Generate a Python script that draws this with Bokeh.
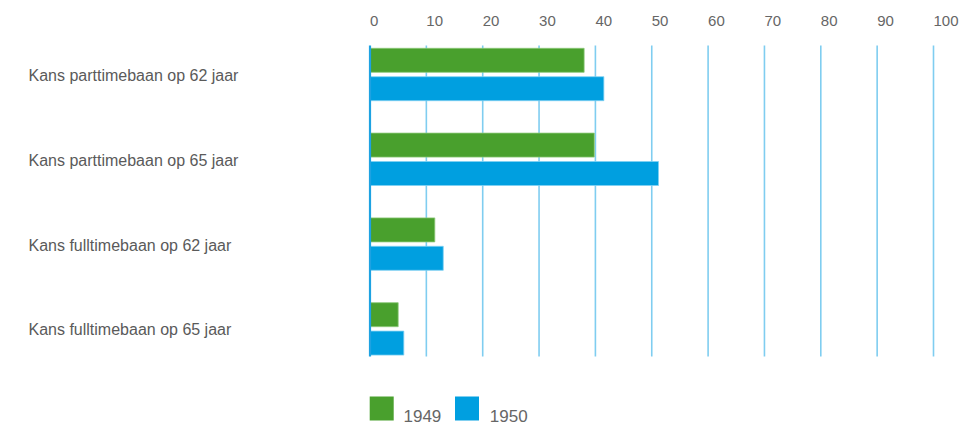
from bokeh.plotting import figure
from bokeh.models import Range1d, ColumnDataSource
from bokeh.core.properties import value
from bokeh.embed import file_html
from bokeh.resources import INLINE

# --- data -------------------------------------------------------------
categories = [
    "Kans parttimebaan op 62 jaar",
    "Kans parttimebaan op 65 jaar",
    "Kans fulltimebaan op 62 jaar",
    "Kans fulltimebaan op 65 jaar",
]
series_names = ["1949", "1950"]
values_1949 = [38.0, 39.8, 11.5, 5.0]
values_1950 = [41.5, 51.2, 13.0, 6.0]
tick_values = [0, 10, 20, 30, 40, 50, 60, 70, 80, 90, 100]
tick_labels = [str(t) for t in tick_values]

GREEN = "#49a02d"
BLUE = "#009fe0"
GRID = "#7fcdf0"
ZERO = "#1ea2e2"
TEXT = "#5a5a5a"
FONT = "Liberation Sans"

W, H = 960, 425
# canvas scale: 0 sits at x=369.5px, one unit = 5.635px;
# row i is centred at y=74px + i*84.8px (rows grow downwards)
X0, XS = 369.5, 5.635
Y0, YS = 74.0, 84.8


def xd(px):
    return (px - X0) / XS


def yd(px):
    return (px - Y0) / YS


p = figure(
    width=W, height=H,
    x_range=Range1d(xd(0), xd(W)),
    y_range=Range1d(yd(H), yd(0)),
    x_axis_location=None, y_axis_location=None,
    toolbar_location=None, output_backend="svg",
    min_border=0, outline_line_color=None,
    background_fill_color="white", border_fill_color="white",
)
p.grid.visible = False

rows = list(range(len(categories)))
bar_h = 24 / YS
off = 14.2 / YS

# vertical grid lines behind the bars
grid_top, grid_bot = yd(45), yd(356)
p.segment(x0=tick_values[1:], x1=tick_values[1:],
          y0=[grid_top] * 10, y1=[grid_bot] * 10,
          line_color=GRID, line_width=1.6)

src = ColumnDataSource(dict(
    y49=[r - off for r in rows], y50=[r + off for r in rows],
    v49=values_1949, v50=values_1950,
))
p.hbar(y="y49", left=0, right="v49", height=bar_h, source=src,
       fill_color=GREEN, line_color="#8cc878", line_width=0.8)
p.hbar(y="y50", left=0, right="v50", height=bar_h, source=src,
       fill_color=BLUE, line_color="#7fd0f2", line_width=0.8)

# zero baseline
p.segment(x0=[0], x1=[0], y0=[grid_top], y1=[grid_bot],
          line_color=ZERO, line_width=2.2)

# value scale labels along the top, left-aligned on their grid lines
p.text(x=tick_values, y=[yd(20.5)] * len(tick_values), text=tick_labels,
       text_font=value(FONT), text_font_size="15px", text_color="#666666",
       text_align="left", text_baseline="middle")

# category labels
p.text(x=[xd(28)] * len(categories), y=[r + 1 / YS for r in rows],
       text=categories, text_font=value(FONT), text_font_size="16px",
       text_color=TEXT, text_align="left", text_baseline="middle")

# legend
p.scatter(x=[xd(381.2), xd(466.5)], y=[yd(408)] * 2, marker="square",
          size=24, fill_color=[GREEN, BLUE], line_color=None)
p.text(x=[xd(403), xd(489.3)], y=[yd(415.5)] * 2, text=series_names,
       text_font=value(FONT), text_font_size="17px", text_color="#666666",
       text_align="left", text_baseline="middle")

open("out.html", "w").write(file_html(p, INLINE))
